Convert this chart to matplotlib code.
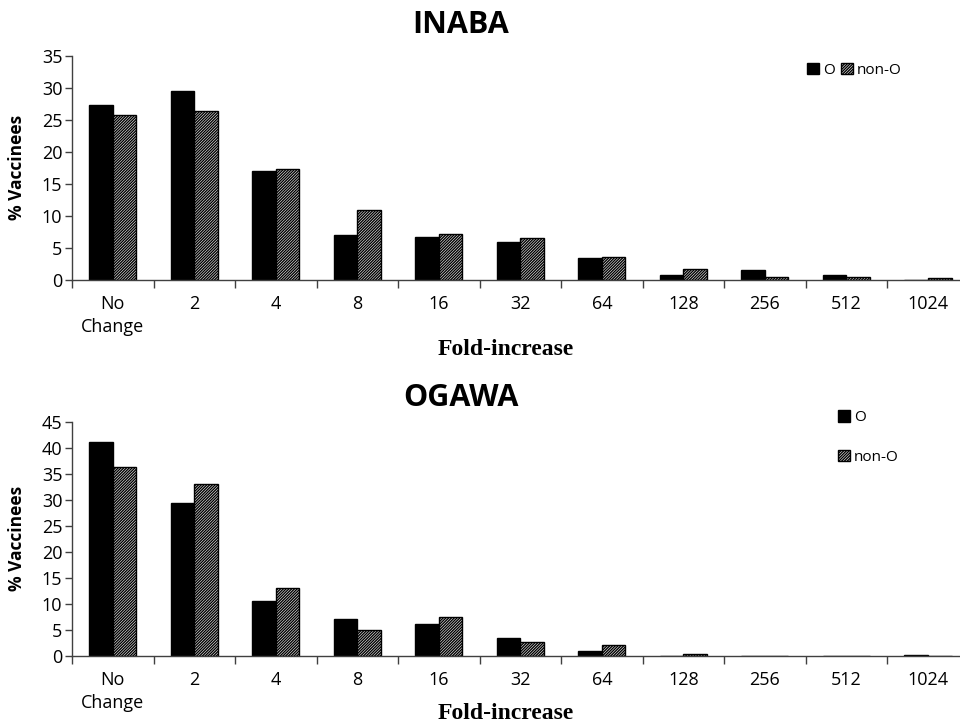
import numpy as np
import matplotlib
matplotlib.use("Agg")
import matplotlib.pyplot as plt
from matplotlib.patches import Patch

plt.rcParams["font.family"] = ["Open Sans", "DejaVu Sans"]
plt.rcParams["hatch.linewidth"] = 1.0

# fold-increase categories
categories = ["No\nChange", "2", "4", "8", "16", "32", "64", "128", "256", "512", "1024"]

# INABA: % vaccinees by blood group
inaba_o = [27.3, 29.6, 17.0, 7.0, 6.7, 5.9, 3.4, 0.7, 1.5, 0.7, 0.0]
inaba_non_o = [25.8, 26.4, 17.4, 11.0, 7.1, 6.6, 3.6, 1.7, 0.5, 0.4, 0.3]

# OGAWA: % vaccinees by blood group
ogawa_o = [41.0, 29.4, 10.6, 7.0, 6.1, 3.5, 1.0, 0.0, 0.0, 0.0, 0.2]
ogawa_non_o = [36.3, 33.1, 13.0, 5.0, 7.4, 2.6, 2.0, 0.3, 0.0, 0.0, 0.0]

fig = plt.figure(figsize=(9.6, 7.27), dpi=100)
ax1 = fig.add_axes([0.075, 0.615, 0.934, 0.308])
ax2 = fig.add_axes([0.075, 0.098, 0.934, 0.322])

bw = 0.29
x = np.arange(len(categories))
HATCH = "////////////"


def draw(ax, o_vals, non_o_vals, ymax, xlabel_gap):
    ax.bar(x - bw / 2, o_vals, bw, color="black", edgecolor="black", linewidth=1.0)
    ax.bar(x + bw / 2, non_o_vals, bw, color="white", edgecolor="black",
           hatch=HATCH, linewidth=1.0)
    ax.set_xlim(-0.5, len(categories) - 0.5)
    ax.set_ylim(0, ymax)
    ax.set_yticks(np.arange(0, ymax + 1, 5))
    ax.set_xticks(x)
    ax.set_xticklabels(categories, fontsize=13, linespacing=1.35)
    ax.set_xticks(np.arange(-0.5, len(categories)), minor=True)
    ax.tick_params(axis="x", which="major", length=0, pad=11)
    ax.tick_params(axis="x", which="minor", length=6, width=1, color="#404040", direction="out")
    ax.tick_params(axis="y", labelsize=13, length=5, width=1, color="#404040", pad=2)
    for s in ("top", "right"):
        ax.spines[s].set_visible(False)
    for s in ("left", "bottom"):
        ax.spines[s].set_color("#404040")
        ax.spines[s].set_linewidth(1.0)
    ax.set_ylabel("% Vaccinees", fontsize=12.5, fontweight="bold")
    ax.yaxis.set_label_coords(-0.0513, 0.5)
    ax.set_xlabel("Fold-increase", fontsize=17, fontweight="bold",
                  family="Liberation Serif")
    # gap (px) between the x axis line and the top of the label
    h_px = ax.get_position().height * 727
    ax.xaxis.set_label_coords(0.484, -xlabel_gap / h_px)


draw(ax1, inaba_o, inaba_non_o, 35, 59)
draw(ax2, ogawa_o, ogawa_non_o, 45, 47)

fig.text(0.48, 1 - 25 / 727, "INABA", fontsize=22, fontweight="bold", ha="center", va="center")
fig.text(0.48, 1 - 398 / 727, "OGAWA", fontsize=22, fontweight="bold", ha="center", va="center")

handles = [Patch(facecolor="black", edgecolor="black"),
           Patch(facecolor="white", edgecolor="black", hatch=HATCH)]

ax1.legend(handles, ["O", "non-O"], ncol=2, loc="upper left", bbox_to_anchor=(0.8265, 0.932),
           bbox_transform=fig.transFigure, frameon=False, fontsize=11,
           handlelength=0.75, handleheight=0.75, handletextpad=0.3, columnspacing=0.4)
ax2.legend(handles, ["O", "non-O"], ncol=1, loc="upper left", bbox_to_anchor=(0.8588, 0.4546),
           bbox_transform=fig.transFigure, frameon=False, fontsize=11,
           handlelength=0.75, handleheight=0.75, handletextpad=0.3, labelspacing=1.6)

fig.savefig("out.png", dpi=100)
